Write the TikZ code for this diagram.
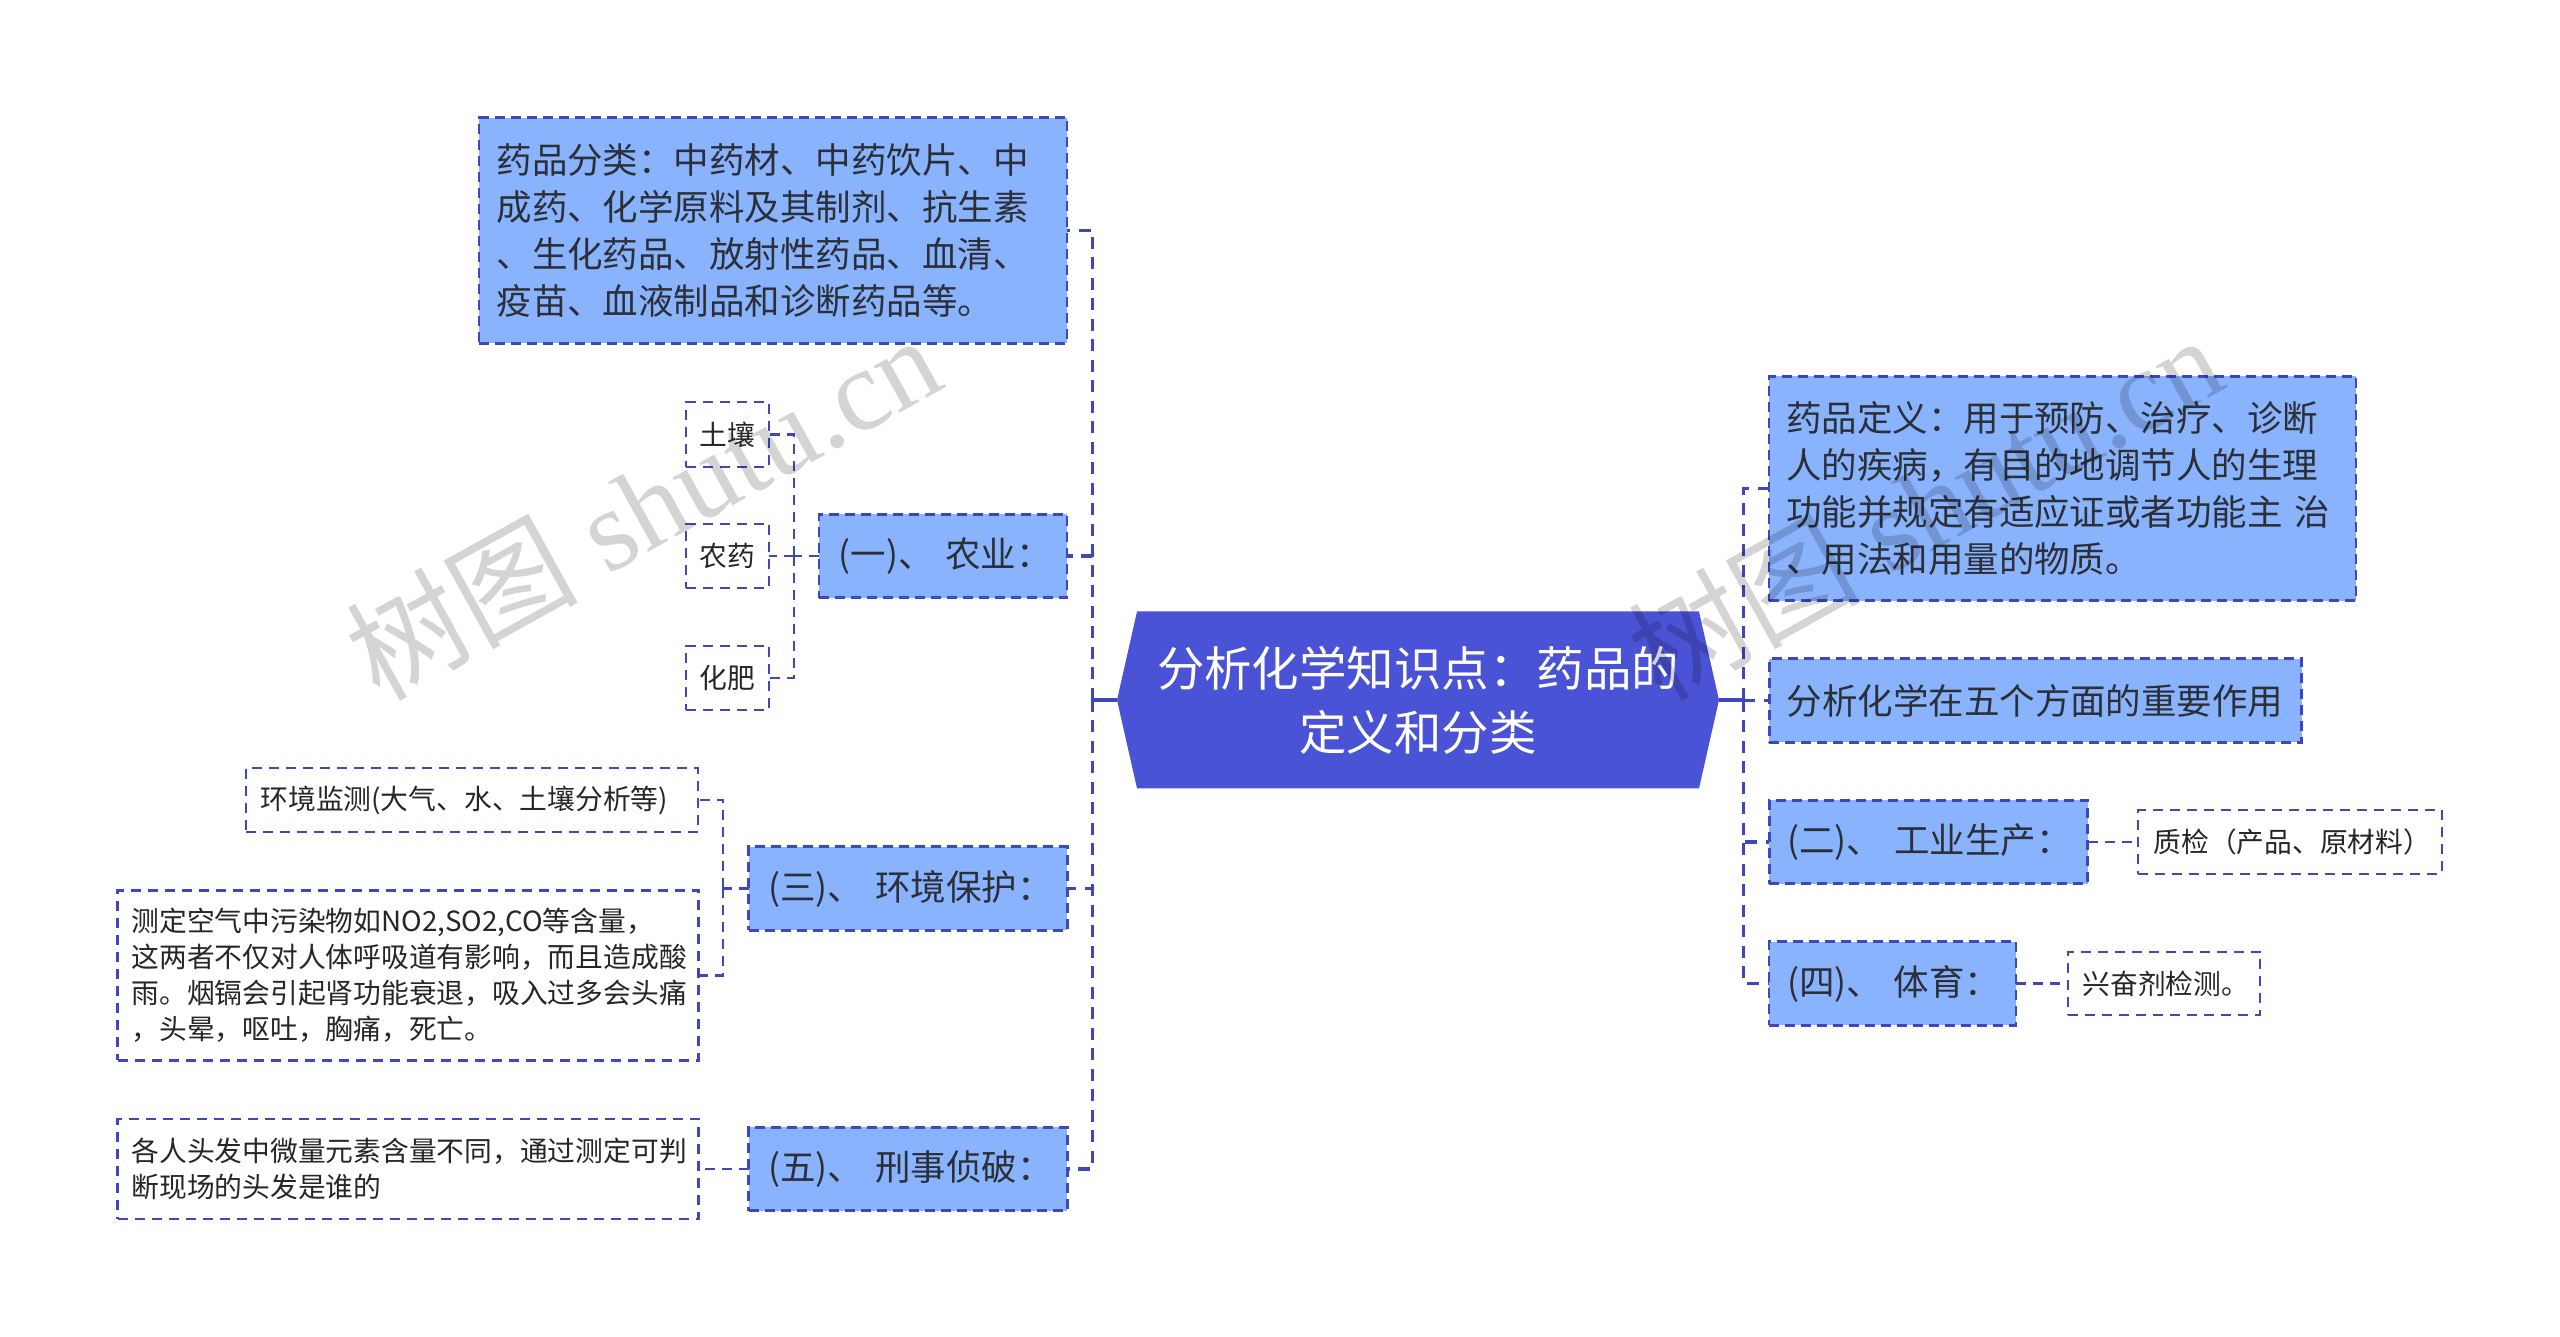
\documentclass[tikz,border=0pt]{standalone}
\usepackage{fontspec}
\setmainfont{Noto Sans CJK SC}
\newfontfamily\wmfont{Liberation Serif}
\usetikzlibrary{shapes.symbols}
\definecolor{rootblue}{HTML}{4A52D6}
\definecolor{boxblue}{HTML}{8AB3FD}
\definecolor{dashblue}{HTML}{3F47BC}
\definecolor{inkgray}{HTML}{2B2F38}
\tikzset{
  mainbox/.style={draw=dashblue,fill=boxblue,line width=1.6pt,dash pattern=on 0.2cm off 0.12cm,
    inner sep=0pt,outer sep=0pt,align=left,text=inkgray,font=\fontsize{20.2}{26.7}\selectfont},
  leafbox/.style={draw=dashblue,fill=white,line width=1.3pt,dash pattern=on 0.2cm off 0.14cm,
    inner sep=0pt,outer sep=0pt,align=left,text=black!85,font=\fontsize{15.8}{20.5}\selectfont},
  link/.style={draw=dashblue,line width=2.1pt,dash pattern=on 0.24cm off 0.17cm},
  leaflink/.style={draw=dashblue,line width=1.3pt,dash pattern=on 0.2cm off 0.14cm},
  wmark/.style={text=black,text opacity=0.17,rotate=29,font=\wmfont\fontsize{66}{66}\selectfont}
}
\begin{document}
\begin{tikzpicture}
\useasboundingbox (0,0) rectangle (51.2,26.74);

% centre
\node[signal,signal to=west and east,signal pointer angle=154.5,fill=rootblue,text=white,inner sep=0pt,outer sep=0pt,
  minimum width=12.04cm,minimum height=3.54cm,align=center,font=\fontsize{27}{36.4}\selectfont] (root) at (28.36,12.74)
  {分析化学知识点：药品的\\定义和分类};

% left side
\node[mainbox,minimum width=11.76cm,minimum height=4.51cm,text width=11.06cm] (cat) at (15.46,22.13)
  {药品分类：中药材、中药饮片、中\\成药、化学原料及其制剂、抗生素\\、生化药品、放射性药品、血清、\\疫苗、血液制品和诊断药品等。};
\node[mainbox,minimum width=4.96cm,minimum height=1.67cm,text width=4.18cm] (agri) at (18.86,15.62) {(一)、~农业：};
\node[leafbox,minimum width=1.66cm,minimum height=1.29cm,align=center] (soil) at (14.55,18.05) {土壤};
\node[leafbox,minimum width=1.66cm,minimum height=1.29cm,align=center] (pest) at (14.55,15.62) {农药};
\node[leafbox,minimum width=1.66cm,minimum height=1.29cm,align=center] (fert) at (14.55,13.18) {化肥};

\node[mainbox,minimum width=6.37cm,minimum height=1.67cm,text width=5.59cm] (env) at (18.16,8.97) {(三)、~环境保护：};
\node[leafbox,minimum width=9.05cm,minimum height=1.27cm,text width=8.46cm] (mon) at (9.44,10.74) {环境监测(大气、水、土壤分析等)};
\node[leafbox,minimum width=11.62cm,minimum height=3.40cm,text width=11.06cm] (air) at (8.16,7.23)
  {测定空气中污染物如NO2,SO2,CO等含量，\\这两者不仅对人体呼吸道有影响，而且造成酸\\雨。烟镉会引起肾功能衰退，吸入过多会头痛\\，头晕，呕吐，胸痛，死亡。};

\node[mainbox,minimum width=6.37cm,minimum height=1.67cm,text width=5.59cm] (crime) at (18.16,3.36) {(五)、~刑事侦破：};
\node[leafbox,minimum width=11.62cm,minimum height=2cm,text width=11.06cm] (hair) at (8.16,3.36)
  {各人头发中微量元素含量不同，通过测定可判\\断现场的头发是谁的};

% right side
\node[mainbox,minimum width=11.74cm,minimum height=4.49cm,text width=11.06cm] (def) at (41.25,16.97)
  {药品定义：用于预防、治疗、诊断\\人的疾病，有目的地调节人的生理\\功能并规定有适应证或者功能主 治\\、用法和用量的物质。};
\node[mainbox,minimum width=10.65cm,minimum height=1.67cm,text width=9.96cm] (five) at (40.71,12.73) {分析化学在五个方面的重要作用};
\node[mainbox,minimum width=6.37cm,minimum height=1.67cm,text width=5.65cm] (ind) at (38.57,9.90) {(二)、~工业生产：};
\node[mainbox,minimum width=4.94cm,minimum height=1.67cm,text width=4.22cm] (sport) at (37.85,7.07) {(四)、~体育：};
\node[leafbox,minimum width=6.07cm,minimum height=1.27cm,text width=5.46cm] (qc) at (45.80,9.90) {质检（产品、原材料）};
\node[leafbox,minimum width=3.84cm,minimum height=1.27cm,text width=3.26cm] (dop) at (43.28,7.07) {兴奋剂检测。};

% connectors
\coordinate (ltrunk) at (21.85,12.74);
\coordinate (rtrunk) at (34.87,12.74);
\coordinate (agribus) at (15.88,15.62);
\coordinate (envbus) at (14.46,8.97);

\draw[dashblue,line width=2.1pt] (root.west) -- (ltrunk);
\draw[dashblue,line width=2.1pt] (root.east) -- (rtrunk);
\foreach \n in {cat,agri,env,crime}
  \draw[link] (ltrunk) |- (\n.east);
\foreach \n in {def,five,ind,sport}
  \draw[link] (rtrunk) |- (\n.west);
\foreach \n in {soil,pest,fert}
  \draw[leaflink] (agribus) |- (\n.east);
\draw[leaflink] (agri.west) -- (agribus);
\foreach \n in {mon,air}
  \draw[leaflink] (envbus) |- (\n.east);
\draw[leaflink] (env.west) -- (envbus);
\draw[leaflink] (crime.west) -- (hair.east);
\draw[leaflink] (ind.east) -- (qc.west);
\draw[leaflink] (sport.east) -- (dop.west);

% watermark
\node[wmark] (wmleft) at (12.85,16.62) {{\rmfamily 树图} shutu.cn};
\node[wmark] (wmright) at (38.49,16.62) {{\rmfamily 树图} shutu.cn};
\end{tikzpicture}
\end{document}
